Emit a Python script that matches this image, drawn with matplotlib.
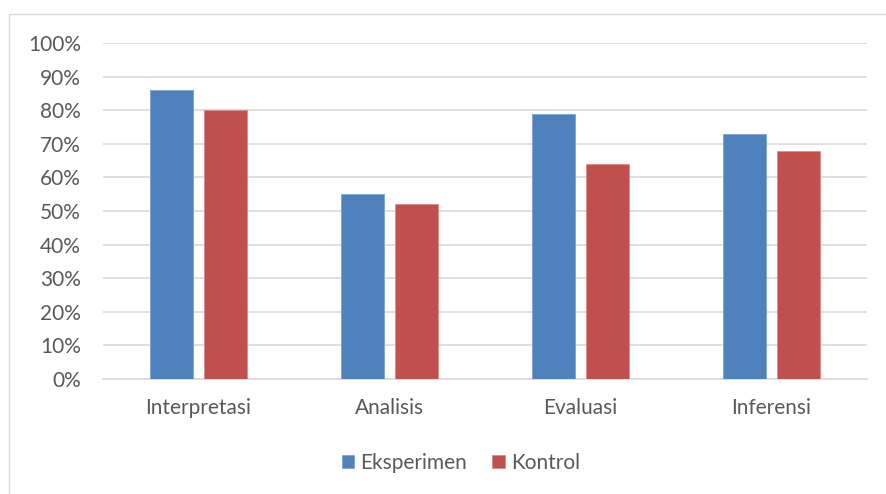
import matplotlib
matplotlib.use("Agg")
import matplotlib.pyplot as plt
from matplotlib.patches import Rectangle
import numpy as np

categories = ["Interpretasi", "Analisis", "Evaluasi", "Inferensi"]
eksperimen = [86, 55, 79, 73]
kontrol = [80, 52, 64, 68]
series_names = ["Eksperimen", "Kontrol"]
yticks = [0, 10, 20, 30, 40, 50, 60, 70, 80, 90, 100]

plt.rcParams['font.family'] = ['Lato', 'DejaVu Sans']
W, H = 886, 494
fig = plt.figure(figsize=(W/100, H/100), dpi=100)
fig.patch.set_facecolor("white")

# chart border
fig.patches.append(Rectangle((9/W, -0.05), 1.0, (H-14)/H + 0.05, transform=fig.transFigure,
                             fill=False, edgecolor="#d9d9d9", linewidth=1.0))

ax = fig.add_axes([103/W, (H-379)/H, (867-103)/W, (379-43)/H])
x = np.arange(len(categories))
bw = 0.225
off = 0.143
ax.bar(x - off, eksperimen, width=bw, color="#4f81bd", edgecolor="#7da2d2", linewidth=0.6,
       label=series_names[0], zorder=3)
ax.bar(x + off, kontrol, width=bw, color="#c0504d", edgecolor="#d98b89", linewidth=0.6,
       label=series_names[1], zorder=3)

fs = 15
ax.set_xlim(-0.5, len(categories) - 0.5)
ax.set_ylim(0, 100)
ax.set_yticks(yticks)
ax.set_yticklabels([f"{v}%" for v in yticks])
ax.set_xticks(x)
ax.set_xticklabels(categories)
ax.grid(axis="y", color="#d9d9d9", linewidth=1.2, zorder=0)
for s in ["top", "right", "left"]:
    ax.spines[s].set_visible(False)
ax.spines["bottom"].set_color("#d9d9d9")
ax.spines["bottom"].set_linewidth(1.2)
ax.tick_params(axis="both", length=0, labelsize=fs, labelcolor="#595959")
ax.tick_params(axis="y", pad=16)
ax.tick_params(axis="x", pad=14)

leg = fig.legend(loc="center", bbox_to_anchor=(461/W, (H-463)/H), ncol=2, frameon=False,
                 fontsize=fs, handlelength=0.6, handleheight=0.6, handletextpad=0.3,
                 columnspacing=1.2)
for t in leg.get_texts():
    t.set_color("#595959")

fig.savefig("out.png", dpi=100)
